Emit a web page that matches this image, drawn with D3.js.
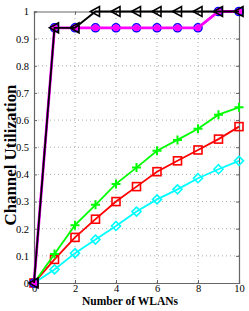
<!DOCTYPE html>
<html>
<head>
<meta charset="utf-8">
<script src="https://cdn.jsdelivr.net/npm/d3@7"></script>
<style>
  body { margin: 0; background: #fff; }
  text { font-family: "Liberation Serif", "DejaVu Serif", serif; }
</style>
</head>
<body>
<div class="chart"></div>
<script>
(function () {
    var wlans = [0, 1, 2, 3, 4, 5, 6, 7, 8, 9, 10];
    var blackTri = [0, 0.94, 0.94, 1, 1, 1, 1, 1, 1, 1, 1];
    var blueCircle = [0, 0.94, 0.94, 0.94, 0.94, 0.94, 0.94, 0.94, 0.94, 1, 1];
    var magentaStar = [0, 0.94, 0.94, 0.94, 0.94, 0.94, 0.94, 0.94, 0.94, 1, 1];
    var greenPlus = [0, 0.107, 0.213, 0.288, 0.365, 0.425, 0.487, 0.527, 0.568, 0.62, 0.647];
    var redSquare = [0, 0.087, 0.168, 0.235, 0.30, 0.355, 0.41, 0.45, 0.49, 0.53, 0.576];
    var cyanDiamond = [0, 0.05, 0.11, 0.16, 0.21, 0.263, 0.308, 0.345, 0.386, 0.419, 0.45];
    var xTicks = [0, 2, 4, 6, 8, 10];
    var yTicks = [0, 0.1, 0.2, 0.3, 0.4, 0.5, 0.6, 0.7, 0.8, 0.9, 1];

    var width = 249, height = 311;
    var svg = d3.select(".chart").append("svg")
        .attr("width", width)
        .attr("height", height);

    var x = d3.scaleLinear().domain([0, 10]).range([34, 239]);
    var y = d3.scaleLinear().domain([0, 1]).range([283, 11.5]);

    /*
        Grid
    */
    svg.append("g").selectAll("line").data(xTicks.slice(1, -1)).enter().append("line")
        .attr("x1", function (d) { return x(d); })
        .attr("x2", function (d) { return x(d); })
        .attr("y1", y(0))
        .attr("y2", y(1))
        .attr("stroke", "#aaa")
        .attr("stroke-width", 1)
        .attr("stroke-dasharray", "1,3");
    svg.append("g").selectAll("line").data(yTicks.slice(1, -1)).enter().append("line")
        .attr("x1", x(0))
        .attr("x2", x(10))
        .attr("y1", function (d) { return y(d); })
        .attr("y2", function (d) { return y(d); })
        .attr("stroke", "#aaa")
        .attr("stroke-width", 1)
        .attr("stroke-dasharray", "1,3");

    /*
        Axes
    */
    var xAxis = svg.append("g").attr("transform", "translate(0," + y(0) + ")")
        .call(d3.axisBottom(x).tickValues(xTicks).tickSize(-3).tickPadding(2));
    var xTop = svg.append("g").attr("transform", "translate(0," + y(1) + ")")
        .call(d3.axisTop(x).tickValues(xTicks).tickSize(-3).tickFormat(""));
    var yAxis = svg.append("g").attr("transform", "translate(" + x(0) + ",0)")
        .call(d3.axisLeft(y).tickValues(yTicks).tickSize(-3).tickPadding(5).tickFormat(d3.format("")));
    var yRight = svg.append("g").attr("transform", "translate(" + x(10) + ",0)")
        .call(d3.axisRight(y).tickValues(yTicks).tickSize(-3).tickFormat(""));
    [xAxis, xTop, yAxis, yRight].forEach(function (a) {
        a.select(".domain").attr("stroke", "#666").attr("stroke-width", 1.2);
        a.selectAll(".tick line").attr("stroke", "#666");
        a.selectAll("text").attr("font-size", 10.5).attr("fill", "#000")
            .style("font-family", "'Liberation Serif', serif");
    });

    /*
        Series
    */
    var series = [
        { vals: cyanDiamond, color: "#00ffff", marker: "diamond", width: 1.8 },
        { vals: redSquare, color: "#ff0000", marker: "square", width: 1.8 },
        { vals: greenPlus, color: "#00ff00", marker: "plus", width: 1.8 },
        { vals: blueCircle, color: "#0000ff", marker: "circle", width: 1.8 },
        { vals: magentaStar, color: "#ff00ff", marker: "star", width: 2.8 },
        { vals: blackTri, color: "#000000", marker: "triangle", width: 1.8 }
    ];
    var line = d3.line()
        .x(function (d) { return x(d[0]); })
        .y(function (d) { return y(d[1]); });

    series.forEach(function (s) {
        var pts = wlans.map(function (w, i) { return [w, s.vals[i]]; });
        var g = svg.append("g");
        g.append("path")
            .attr("d", line(pts))
            .attr("fill", "none")
            .attr("stroke", s.color)
            .attr("stroke-width", s.width);
        var m = g.selectAll(".m").data(pts).enter().append("g")
            .attr("transform", function (d) { return "translate(" + x(d[0]) + "," + y(d[1]) + ")"; });
        if (s.marker == "diamond") {
            m.append("path").attr("d", "M0,-4.5L4.5,0L0,4.5L-4.5,0Z")
                .attr("fill", "none").attr("stroke", s.color).attr("stroke-width", 1.6);
        } else if (s.marker == "square") {
            m.append("rect").attr("x", -4).attr("y", -4).attr("width", 8).attr("height", 8)
                .attr("fill", "none").attr("stroke", s.color).attr("stroke-width", 1.6);
        } else if (s.marker == "plus") {
            m.append("path").attr("d", "M-4.5,0H4.5M0,-4.5V4.5")
                .attr("stroke", s.color).attr("stroke-width", 2);
        } else if (s.marker == "circle") {
            m.append("circle").attr("r", 4)
                .attr("fill", "none").attr("stroke", s.color).attr("stroke-width", 1.6);
        } else if (s.marker == "star") {
            m.append("path").attr("d", "M-3.5,0H3.5M0,-3.5V3.5M-2.5,-2.5L2.5,2.5M-2.5,2.5L2.5,-2.5")
                .attr("stroke", s.color).attr("stroke-width", 2);
        } else if (s.marker == "triangle") {
            m.append("path").attr("d", "M-5,0L4,-5L4,5Z")
                .attr("fill", "none").attr("stroke", s.color).attr("stroke-width", 1.6);
        }
    });

    /*
        Labels
    */
    svg.append("text")
        .attr("x", 130)
        .attr("y", 305)
        .attr("text-anchor", "middle")
        .attr("font-size", 13.5)
        .attr("font-weight", "bold")
        .attr("textLength", 96)
        .attr("lengthAdjust", "spacingAndGlyphs")
        .text("Number of WLANs");
    svg.append("text")
        .attr("transform", "translate(15.5,155) rotate(-90)")
        .attr("text-anchor", "middle")
        .attr("font-size", 16)
        .attr("font-weight", "bold")
        .attr("textLength", 141)
        .attr("lengthAdjust", "spacingAndGlyphs")
        .text("Channel Utilization");
})();
</script>
</body>
</html>
